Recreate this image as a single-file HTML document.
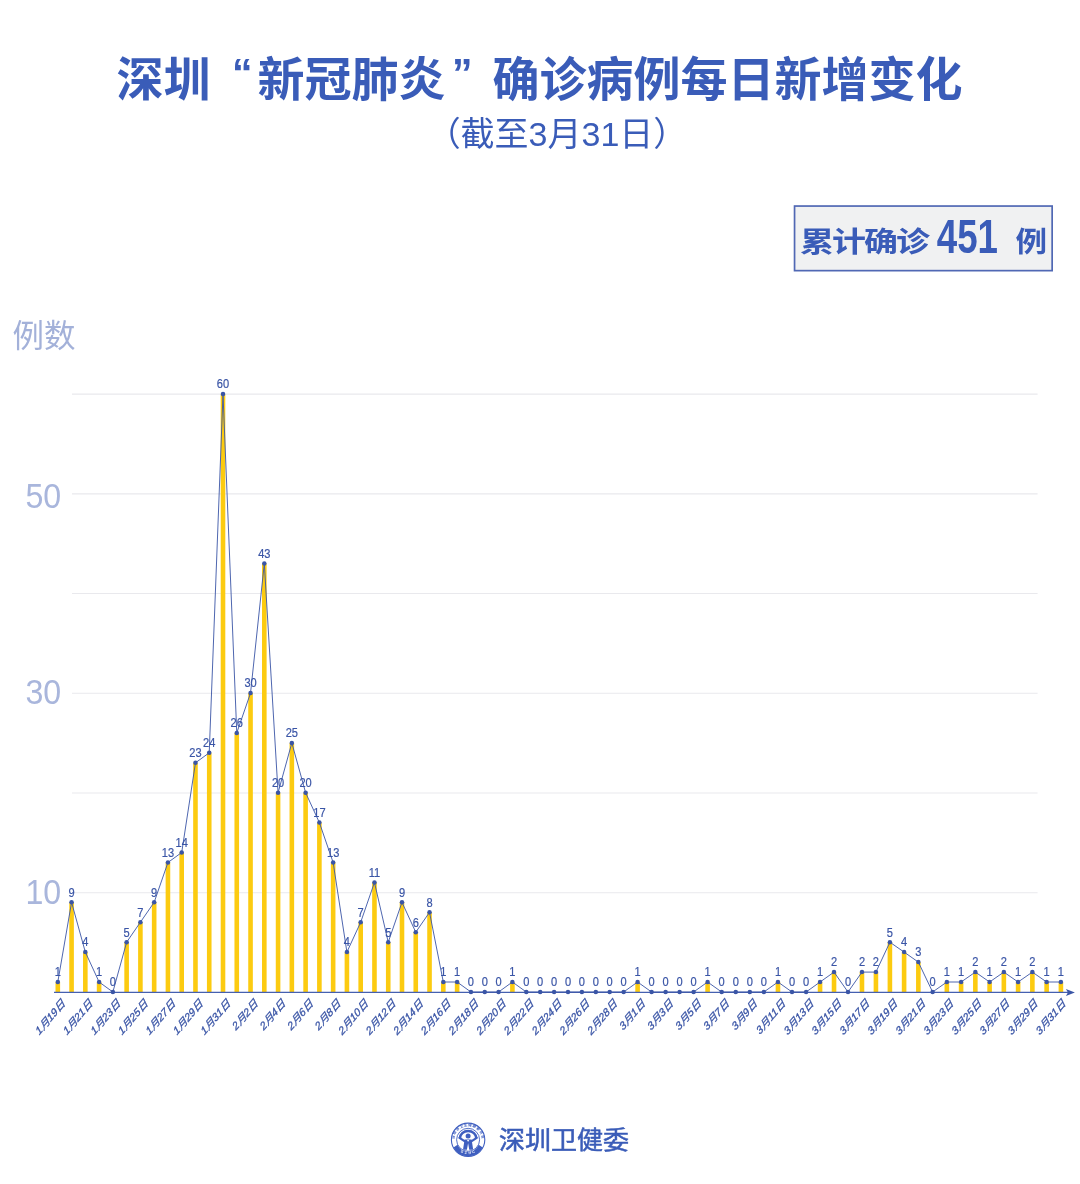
<!DOCTYPE html>
<html lang="zh-CN"><head><meta charset="utf-8"><title>深圳新冠肺炎确诊病例每日新增变化</title>
<style>html,body{margin:0;padding:0;background:#fff}body{width:1080px;height:1184px;overflow:hidden}svg{display:block}text{font-family:"Liberation Sans","Noto Sans CJK SC",sans-serif}</style></head><body>
<svg width="1080" height="1184" viewBox="0 0 1080 1184">
<rect width="1080" height="1184" fill="#fff"/>
<g id="title" fill="#3a5cb8" font-weight="700" font-size="47">
<text x="116.5" y="96">深圳</text>
<text x="252.4" y="86.7" text-anchor="end" font-size="41">“</text>
<text x="257.5" y="96">新冠肺炎</text>
<text x="452.1" y="86.7" font-size="41">”</text>
<text x="492.5" y="96">确诊病例每日新增变化</text>
</g>
<text id="sub" x="557" y="146" font-size="34" fill="#3a5cb8" text-anchor="middle">（截至3月31日）</text>
<rect x="794.55" y="206.05" width="257.6" height="64.6" fill="#f0f1f2" stroke="#5068b4" stroke-width="1.7"/>
<text transform="translate(800 252.2) scale(1 0.84)" font-size="34" letter-spacing="-2" font-weight="700" fill="#3a5cb8">累计确诊</text>
<text x="936.8" y="252.7" font-size="48.3" font-weight="700" fill="#3a5cb8" textLength="61.2" lengthAdjust="spacingAndGlyphs">451</text>
<text transform="translate(1015.6 252.2) scale(0.93 0.84)" font-size="34" font-weight="700" fill="#3a5cb8">例</text>
<text x="12.4" y="346.6" font-size="31.5" fill="#a3b1d9">例数</text>
<text x="25.4" y="507.6" font-size="35.2" fill="#a9b6dc" textLength="35.8" lengthAdjust="spacingAndGlyphs">50</text>
<text x="25.4" y="704.3" font-size="35.2" fill="#a9b6dc" textLength="35.8" lengthAdjust="spacingAndGlyphs">30</text>
<text x="25.4" y="904.3" font-size="35.2" fill="#a9b6dc" textLength="35.8" lengthAdjust="spacingAndGlyphs">10</text>
<line x1="72" x2="1037.6" y1="892.7" y2="892.7" stroke="#e9e9ed" stroke-width="1.15"/>
<line x1="72" x2="1037.6" y1="793.0" y2="793.0" stroke="#e9e9ed" stroke-width="1.15"/>
<line x1="72" x2="1037.6" y1="693.2" y2="693.2" stroke="#e9e9ed" stroke-width="1.15"/>
<line x1="72" x2="1037.6" y1="593.5" y2="593.5" stroke="#e9e9ed" stroke-width="1.15"/>
<line x1="72" x2="1037.6" y1="493.8" y2="493.8" stroke="#e9e9ed" stroke-width="1.15"/>
<line x1="72" x2="1037.6" y1="394.1" y2="394.1" stroke="#e9e9ed" stroke-width="1.15"/>
<g fill="#fccb10">
<rect x="55.50" y="982.0" width="4.6" height="10.4"/>
<rect x="69.27" y="902.3" width="4.6" height="90.1"/>
<rect x="83.03" y="952.1" width="4.6" height="40.3"/>
<rect x="96.80" y="982.0" width="4.6" height="10.4"/>
<rect x="124.33" y="942.2" width="4.6" height="50.2"/>
<rect x="138.10" y="922.2" width="4.6" height="70.2"/>
<rect x="151.87" y="902.3" width="4.6" height="90.1"/>
<rect x="165.63" y="862.5" width="4.6" height="129.9"/>
<rect x="179.40" y="852.5" width="4.6" height="139.9"/>
<rect x="193.17" y="762.8" width="4.6" height="229.6"/>
<rect x="206.93" y="752.8" width="4.6" height="239.6"/>
<rect x="220.70" y="394.1" width="4.6" height="598.3"/>
<rect x="234.47" y="732.9" width="4.6" height="259.5"/>
<rect x="248.24" y="693.0" width="4.6" height="299.4"/>
<rect x="262.01" y="563.5" width="4.6" height="428.9"/>
<rect x="275.77" y="792.7" width="4.6" height="199.7"/>
<rect x="289.54" y="742.9" width="4.6" height="249.5"/>
<rect x="303.31" y="792.7" width="4.6" height="199.7"/>
<rect x="317.08" y="822.6" width="4.6" height="169.8"/>
<rect x="330.85" y="862.5" width="4.6" height="129.9"/>
<rect x="344.62" y="952.1" width="4.6" height="40.3"/>
<rect x="358.39" y="922.2" width="4.6" height="70.2"/>
<rect x="372.16" y="882.4" width="4.6" height="110.0"/>
<rect x="385.93" y="942.2" width="4.6" height="50.2"/>
<rect x="399.69" y="902.3" width="4.6" height="90.1"/>
<rect x="413.46" y="932.2" width="4.6" height="60.2"/>
<rect x="427.23" y="912.3" width="4.6" height="80.1"/>
<rect x="441.00" y="982.0" width="4.6" height="10.4"/>
<rect x="454.82" y="982.0" width="4.6" height="10.4"/>
<rect x="510.10" y="982.0" width="4.6" height="10.4"/>
<rect x="635.30" y="982.0" width="4.6" height="10.4"/>
<rect x="705.30" y="982.0" width="4.6" height="10.4"/>
<rect x="775.66" y="982.0" width="4.6" height="10.4"/>
<rect x="817.77" y="982.0" width="4.6" height="10.4"/>
<rect x="831.73" y="972.1" width="4.6" height="20.3"/>
<rect x="859.67" y="972.1" width="4.6" height="20.3"/>
<rect x="873.63" y="972.1" width="4.6" height="20.3"/>
<rect x="887.60" y="942.2" width="4.6" height="50.2"/>
<rect x="901.80" y="952.1" width="4.6" height="40.3"/>
<rect x="916.05" y="962.1" width="4.6" height="30.3"/>
<rect x="944.55" y="982.0" width="4.6" height="10.4"/>
<rect x="958.80" y="982.0" width="4.6" height="10.4"/>
<rect x="973.05" y="972.1" width="4.6" height="20.3"/>
<rect x="987.30" y="982.0" width="4.6" height="10.4"/>
<rect x="1001.55" y="972.1" width="4.6" height="20.3"/>
<rect x="1015.80" y="982.0" width="4.6" height="10.4"/>
<rect x="1030.07" y="972.1" width="4.6" height="20.3"/>
<rect x="1044.33" y="982.0" width="4.6" height="10.4"/>
<rect x="1058.60" y="982.0" width="4.6" height="10.4"/>
</g>
<line x1="54" x2="1068" y1="992.4" y2="992.4" stroke="#4560b0" stroke-width="1.15"/>
<path d="M1074.9 992.4 L1065.9 988.9 L1067.9 992.4 L1065.9 995.9 Z" fill="#3a55a6"/>
<polyline points="57.80,982.0 71.57,902.3 85.33,952.1 99.10,982.0 112.87,992.0 126.63,942.2 140.40,922.2 154.17,902.3 167.93,862.5 181.70,852.5 195.47,762.8 209.23,752.8 223.00,394.1 236.77,732.9 250.54,693.0 264.31,563.5 278.07,792.7 291.84,742.9 305.61,792.7 319.38,822.6 333.15,862.5 346.92,952.1 360.69,922.2 374.46,882.4 388.23,942.2 401.99,902.3 415.76,932.2 429.53,912.3 443.30,982.0 457.12,982.0 470.94,992.0 484.76,992.0 498.58,992.0 512.40,982.0 526.30,992.0 540.20,992.0 554.10,992.0 568.00,992.0 581.90,992.0 595.80,992.0 609.70,992.0 623.65,992.0 637.60,982.0 651.60,992.0 665.60,992.0 679.60,992.0 693.60,992.0 707.60,982.0 721.67,992.0 735.74,992.0 749.81,992.0 763.89,992.0 777.96,982.0 792.03,992.0 806.10,992.0 820.07,982.0 834.03,972.1 848.00,992.0 861.97,972.1 875.93,972.1 889.90,942.2 904.10,952.1 918.35,962.1 932.60,992.0 946.85,982.0 961.10,982.0 975.35,972.1 989.60,982.0 1003.85,972.1 1018.10,982.0 1032.37,972.1 1046.63,982.0 1060.90,982.0" fill="none" stroke="#3a55a6" stroke-width="0.9" stroke-linejoin="round"/>
<g fill="#3a55a6">
<circle cx="57.80" cy="982.0" r="2.25"/>
<circle cx="71.57" cy="902.3" r="2.25"/>
<circle cx="85.33" cy="952.1" r="2.25"/>
<circle cx="99.10" cy="982.0" r="2.25"/>
<circle cx="112.87" cy="992.0" r="2.25"/>
<circle cx="126.63" cy="942.2" r="2.25"/>
<circle cx="140.40" cy="922.2" r="2.25"/>
<circle cx="154.17" cy="902.3" r="2.25"/>
<circle cx="167.93" cy="862.5" r="2.25"/>
<circle cx="181.70" cy="852.5" r="2.25"/>
<circle cx="195.47" cy="762.8" r="2.25"/>
<circle cx="209.23" cy="752.8" r="2.25"/>
<circle cx="223.00" cy="394.1" r="2.25"/>
<circle cx="236.77" cy="732.9" r="2.25"/>
<circle cx="250.54" cy="693.0" r="2.25"/>
<circle cx="264.31" cy="563.5" r="2.25"/>
<circle cx="278.07" cy="792.7" r="2.25"/>
<circle cx="291.84" cy="742.9" r="2.25"/>
<circle cx="305.61" cy="792.7" r="2.25"/>
<circle cx="319.38" cy="822.6" r="2.25"/>
<circle cx="333.15" cy="862.5" r="2.25"/>
<circle cx="346.92" cy="952.1" r="2.25"/>
<circle cx="360.69" cy="922.2" r="2.25"/>
<circle cx="374.46" cy="882.4" r="2.25"/>
<circle cx="388.23" cy="942.2" r="2.25"/>
<circle cx="401.99" cy="902.3" r="2.25"/>
<circle cx="415.76" cy="932.2" r="2.25"/>
<circle cx="429.53" cy="912.3" r="2.25"/>
<circle cx="443.30" cy="982.0" r="2.25"/>
<circle cx="457.12" cy="982.0" r="2.25"/>
<circle cx="470.94" cy="992.0" r="2.25"/>
<circle cx="484.76" cy="992.0" r="2.25"/>
<circle cx="498.58" cy="992.0" r="2.25"/>
<circle cx="512.40" cy="982.0" r="2.25"/>
<circle cx="526.30" cy="992.0" r="2.25"/>
<circle cx="540.20" cy="992.0" r="2.25"/>
<circle cx="554.10" cy="992.0" r="2.25"/>
<circle cx="568.00" cy="992.0" r="2.25"/>
<circle cx="581.90" cy="992.0" r="2.25"/>
<circle cx="595.80" cy="992.0" r="2.25"/>
<circle cx="609.70" cy="992.0" r="2.25"/>
<circle cx="623.65" cy="992.0" r="2.25"/>
<circle cx="637.60" cy="982.0" r="2.25"/>
<circle cx="651.60" cy="992.0" r="2.25"/>
<circle cx="665.60" cy="992.0" r="2.25"/>
<circle cx="679.60" cy="992.0" r="2.25"/>
<circle cx="693.60" cy="992.0" r="2.25"/>
<circle cx="707.60" cy="982.0" r="2.25"/>
<circle cx="721.67" cy="992.0" r="2.25"/>
<circle cx="735.74" cy="992.0" r="2.25"/>
<circle cx="749.81" cy="992.0" r="2.25"/>
<circle cx="763.89" cy="992.0" r="2.25"/>
<circle cx="777.96" cy="982.0" r="2.25"/>
<circle cx="792.03" cy="992.0" r="2.25"/>
<circle cx="806.10" cy="992.0" r="2.25"/>
<circle cx="820.07" cy="982.0" r="2.25"/>
<circle cx="834.03" cy="972.1" r="2.25"/>
<circle cx="848.00" cy="992.0" r="2.25"/>
<circle cx="861.97" cy="972.1" r="2.25"/>
<circle cx="875.93" cy="972.1" r="2.25"/>
<circle cx="889.90" cy="942.2" r="2.25"/>
<circle cx="904.10" cy="952.1" r="2.25"/>
<circle cx="918.35" cy="962.1" r="2.25"/>
<circle cx="932.60" cy="992.0" r="2.25"/>
<circle cx="946.85" cy="982.0" r="2.25"/>
<circle cx="961.10" cy="982.0" r="2.25"/>
<circle cx="975.35" cy="972.1" r="2.25"/>
<circle cx="989.60" cy="982.0" r="2.25"/>
<circle cx="1003.85" cy="972.1" r="2.25"/>
<circle cx="1018.10" cy="982.0" r="2.25"/>
<circle cx="1032.37" cy="972.1" r="2.25"/>
<circle cx="1046.63" cy="982.0" r="2.25"/>
<circle cx="1060.90" cy="982.0" r="2.25"/>
</g>
<g fill="#3a55a6" font-size="12.6" text-anchor="middle" stroke="#3a55a6" stroke-width="0.2">
<text transform="translate(57.80 976.3) scale(0.88 1)">1</text>
<text transform="translate(71.57 896.6) scale(0.88 1)">9</text>
<text transform="translate(85.33 946.4) scale(0.88 1)">4</text>
<text transform="translate(99.10 976.3) scale(0.88 1)">1</text>
<text transform="translate(112.87 986.3) scale(0.88 1)">0</text>
<text transform="translate(126.63 936.5) scale(0.88 1)">5</text>
<text transform="translate(140.40 916.5) scale(0.88 1)">7</text>
<text transform="translate(154.17 896.6) scale(0.88 1)">9</text>
<text transform="translate(167.93 856.8) scale(0.88 1)">13</text>
<text transform="translate(181.70 846.8) scale(0.88 1)">14</text>
<text transform="translate(195.47 757.1) scale(0.88 1)">23</text>
<text transform="translate(209.23 747.1) scale(0.88 1)">24</text>
<text transform="translate(223.00 388.4) scale(0.88 1)">60</text>
<text transform="translate(236.77 727.2) scale(0.88 1)">26</text>
<text transform="translate(250.54 687.3) scale(0.88 1)">30</text>
<text transform="translate(264.31 557.8) scale(0.88 1)">43</text>
<text transform="translate(278.07 787.0) scale(0.88 1)">20</text>
<text transform="translate(291.84 737.2) scale(0.88 1)">25</text>
<text transform="translate(305.61 787.0) scale(0.88 1)">20</text>
<text transform="translate(319.38 816.9) scale(0.88 1)">17</text>
<text transform="translate(333.15 856.8) scale(0.88 1)">13</text>
<text transform="translate(346.92 946.4) scale(0.88 1)">4</text>
<text transform="translate(360.69 916.5) scale(0.88 1)">7</text>
<text transform="translate(374.46 876.7) scale(0.88 1)">11</text>
<text transform="translate(388.23 936.5) scale(0.88 1)">5</text>
<text transform="translate(401.99 896.6) scale(0.88 1)">9</text>
<text transform="translate(415.76 926.5) scale(0.88 1)">6</text>
<text transform="translate(429.53 906.6) scale(0.88 1)">8</text>
<text transform="translate(443.30 976.3) scale(0.88 1)">1</text>
<text transform="translate(457.12 976.3) scale(0.88 1)">1</text>
<text transform="translate(470.94 986.3) scale(0.88 1)">0</text>
<text transform="translate(484.76 986.3) scale(0.88 1)">0</text>
<text transform="translate(498.58 986.3) scale(0.88 1)">0</text>
<text transform="translate(512.40 976.3) scale(0.88 1)">1</text>
<text transform="translate(526.30 986.3) scale(0.88 1)">0</text>
<text transform="translate(540.20 986.3) scale(0.88 1)">0</text>
<text transform="translate(554.10 986.3) scale(0.88 1)">0</text>
<text transform="translate(568.00 986.3) scale(0.88 1)">0</text>
<text transform="translate(581.90 986.3) scale(0.88 1)">0</text>
<text transform="translate(595.80 986.3) scale(0.88 1)">0</text>
<text transform="translate(609.70 986.3) scale(0.88 1)">0</text>
<text transform="translate(623.65 986.3) scale(0.88 1)">0</text>
<text transform="translate(637.60 976.3) scale(0.88 1)">1</text>
<text transform="translate(651.60 986.3) scale(0.88 1)">0</text>
<text transform="translate(665.60 986.3) scale(0.88 1)">0</text>
<text transform="translate(679.60 986.3) scale(0.88 1)">0</text>
<text transform="translate(693.60 986.3) scale(0.88 1)">0</text>
<text transform="translate(707.60 976.3) scale(0.88 1)">1</text>
<text transform="translate(721.67 986.3) scale(0.88 1)">0</text>
<text transform="translate(735.74 986.3) scale(0.88 1)">0</text>
<text transform="translate(749.81 986.3) scale(0.88 1)">0</text>
<text transform="translate(763.89 986.3) scale(0.88 1)">0</text>
<text transform="translate(777.96 976.3) scale(0.88 1)">1</text>
<text transform="translate(792.03 986.3) scale(0.88 1)">0</text>
<text transform="translate(806.10 986.3) scale(0.88 1)">0</text>
<text transform="translate(820.07 976.3) scale(0.88 1)">1</text>
<text transform="translate(834.03 966.4) scale(0.88 1)">2</text>
<text transform="translate(848.00 986.3) scale(0.88 1)">0</text>
<text transform="translate(861.97 966.4) scale(0.88 1)">2</text>
<text transform="translate(875.93 966.4) scale(0.88 1)">2</text>
<text transform="translate(889.90 936.5) scale(0.88 1)">5</text>
<text transform="translate(904.10 946.4) scale(0.88 1)">4</text>
<text transform="translate(918.35 956.4) scale(0.88 1)">3</text>
<text transform="translate(932.60 986.3) scale(0.88 1)">0</text>
<text transform="translate(946.85 976.3) scale(0.88 1)">1</text>
<text transform="translate(961.10 976.3) scale(0.88 1)">1</text>
<text transform="translate(975.35 966.4) scale(0.88 1)">2</text>
<text transform="translate(989.60 976.3) scale(0.88 1)">1</text>
<text transform="translate(1003.85 966.4) scale(0.88 1)">2</text>
<text transform="translate(1018.10 976.3) scale(0.88 1)">1</text>
<text transform="translate(1032.37 966.4) scale(0.88 1)">2</text>
<text transform="translate(1046.63 976.3) scale(0.88 1)">1</text>
<text transform="translate(1060.90 976.3) scale(0.88 1)">1</text>
</g>
<g fill="#3a55a6" font-size="10.3" font-style="italic" text-anchor="end" stroke="#3a55a6" stroke-width="0.3">
<text transform="translate(65.80 1004.1) rotate(-50) skewX(-10) scale(1.09 1)">1月19日</text>
<text transform="translate(93.33 1004.1) rotate(-50) skewX(-10) scale(1.09 1)">1月21日</text>
<text transform="translate(120.87 1004.1) rotate(-50) skewX(-10) scale(1.09 1)">1月23日</text>
<text transform="translate(148.40 1004.1) rotate(-50) skewX(-10) scale(1.09 1)">1月25日</text>
<text transform="translate(175.93 1004.1) rotate(-50) skewX(-10) scale(1.09 1)">1月27日</text>
<text transform="translate(203.47 1004.1) rotate(-50) skewX(-10) scale(1.09 1)">1月29日</text>
<text transform="translate(231.00 1004.1) rotate(-50) skewX(-10) scale(1.09 1)">1月31日</text>
<text transform="translate(258.54 1004.1) rotate(-50) skewX(-10) scale(1.09 1)">2月2日</text>
<text transform="translate(286.07 1004.1) rotate(-50) skewX(-10) scale(1.09 1)">2月4日</text>
<text transform="translate(313.61 1004.1) rotate(-50) skewX(-10) scale(1.09 1)">2月6日</text>
<text transform="translate(341.15 1004.1) rotate(-50) skewX(-10) scale(1.09 1)">2月8日</text>
<text transform="translate(368.69 1004.1) rotate(-50) skewX(-10) scale(1.09 1)">2月10日</text>
<text transform="translate(396.23 1004.1) rotate(-50) skewX(-10) scale(1.09 1)">2月12日</text>
<text transform="translate(423.76 1004.1) rotate(-50) skewX(-10) scale(1.09 1)">2月14日</text>
<text transform="translate(451.30 1004.1) rotate(-50) skewX(-10) scale(1.09 1)">2月16日</text>
<text transform="translate(478.94 1004.1) rotate(-50) skewX(-10) scale(1.09 1)">2月18日</text>
<text transform="translate(506.58 1004.1) rotate(-50) skewX(-10) scale(1.09 1)">2月20日</text>
<text transform="translate(534.30 1004.1) rotate(-50) skewX(-10) scale(1.09 1)">2月22日</text>
<text transform="translate(562.10 1004.1) rotate(-50) skewX(-10) scale(1.09 1)">2月24日</text>
<text transform="translate(589.90 1004.1) rotate(-50) skewX(-10) scale(1.09 1)">2月26日</text>
<text transform="translate(617.70 1004.1) rotate(-50) skewX(-10) scale(1.09 1)">2月28日</text>
<text transform="translate(645.60 1004.1) rotate(-50) skewX(-10) scale(1.09 1)">3月1日</text>
<text transform="translate(673.60 1004.1) rotate(-50) skewX(-10) scale(1.09 1)">3月3日</text>
<text transform="translate(701.60 1004.1) rotate(-50) skewX(-10) scale(1.09 1)">3月5日</text>
<text transform="translate(729.67 1004.1) rotate(-50) skewX(-10) scale(1.09 1)">3月7日</text>
<text transform="translate(757.81 1004.1) rotate(-50) skewX(-10) scale(1.09 1)">3月9日</text>
<text transform="translate(785.96 1004.1) rotate(-50) skewX(-10) scale(1.09 1)">3月11日</text>
<text transform="translate(814.10 1004.1) rotate(-50) skewX(-10) scale(1.09 1)">3月13日</text>
<text transform="translate(842.03 1004.1) rotate(-50) skewX(-10) scale(1.09 1)">3月15日</text>
<text transform="translate(869.97 1004.1) rotate(-50) skewX(-10) scale(1.09 1)">3月17日</text>
<text transform="translate(897.90 1004.1) rotate(-50) skewX(-10) scale(1.09 1)">3月19日</text>
<text transform="translate(925.90 1004.1) rotate(-50) skewX(-10) scale(1.09 1)">3月21日</text>
<text transform="translate(953.95 1004.1) rotate(-50) skewX(-10) scale(1.09 1)">3月23日</text>
<text transform="translate(982.00 1004.1) rotate(-50) skewX(-10) scale(1.09 1)">3月25日</text>
<text transform="translate(1010.05 1004.1) rotate(-50) skewX(-10) scale(1.09 1)">3月27日</text>
<text transform="translate(1038.12 1004.1) rotate(-50) skewX(-10) scale(1.09 1)">3月29日</text>
<text transform="translate(1066.20 1004.1) rotate(-50) skewX(-10) scale(1.09 1)">3月31日</text>
</g>
<g id="logo" transform="translate(468.1 1139.8)">
<circle r="16.7" fill="#fff" stroke="#3f5fc0" stroke-width="1.1"/>
<path d="M-14.6 7.6 A16.5 16.5 0 0 0 14.6 7.6 L10.6 5.0 A11.6 11.6 0 0 1 -10.6 5.0 Z" fill="#3f5fc0"/>
<circle r="11.5" fill="none" stroke="#3f5fc0" stroke-width="0.9"/>
<path id="lgarc" d="M-12.9 4.6 A13.7 13.7 0 1 1 12.9 4.6" fill="none"/>
<text font-size="3.6" font-weight="700" fill="#3f5fc0" letter-spacing="0.55"><textPath href="#lgarc" startOffset="50%" text-anchor="middle">深圳市卫生健康委员会</textPath></text>
<path id="lgarc2" d="M-11.6 8.4 A14.3 14.3 0 0 0 11.6 8.4" fill="none"/>
<text font-size="3.5" font-weight="700" fill="#fff" letter-spacing="1.9"><textPath href="#lgarc2" startOffset="53%" text-anchor="middle">SZHC</textPath></text>
<path d="M-8.2 -1.6 A8.2 7.2 0 0 1 8.2 -1.6" fill="none" stroke="#3f5fc0" stroke-width="2.6"/>
<path d="M-8.6 -1.9 L-3.2 1.6 M8.6 -1.9 L3.2 1.6" stroke="#3f5fc0" stroke-width="2.2" stroke-linecap="round" fill="none"/>
<circle cx="0" cy="-3.9" r="2.5" fill="#3f5fc0"/>
<path d="M-3.5 -0.2 L3.5 -0.2 L5.1 9.9 L1.2 9.9 L0 3.4 L-1.2 9.9 L-5.1 9.9 Z" fill="#3f5fc0"/>
<path d="M-1.1 0.3 L0 2.2 L1.1 0.3 Z" fill="#fff"/>
</g>
<text transform="translate(499 1148.5) scale(1 0.94)" font-size="26" fill="#3a5cb8" stroke="#3a5cb8" stroke-width="0.55">深圳卫健委</text>
</svg></body></html>
